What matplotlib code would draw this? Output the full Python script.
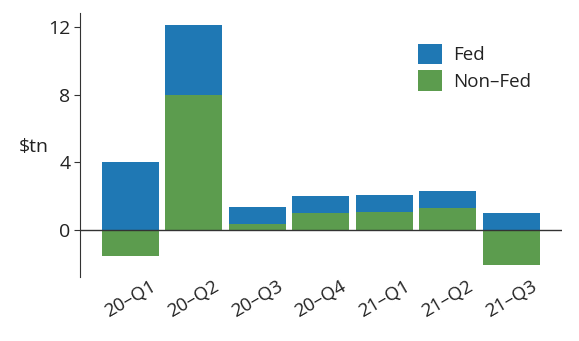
import matplotlib
matplotlib.use("Agg")
import matplotlib.pyplot as plt
import numpy as np

quarters = ["20\u2013Q1", "20\u2013Q2", "20\u2013Q3", "20\u2013Q4", "21\u2013Q1", "21\u2013Q2", "21\u2013Q3"]
fed = [4.04, 4.14, 1.00, 1.01, 1.02, 0.97, 0.99]
non_fed = [-1.54, 7.99, 0.36, 1.02, 1.05, 1.32, -2.09]

blue = "#1f78b4"
green = "#5c9c4e"

plt.rcParams['font.family'] = ['Open Sans', 'DejaVu Sans']

fig = plt.figure(figsize=(5.79, 3.41), dpi=100)
ax = fig.add_axes([80 / 579, 1 - 277 / 341, (562 - 80) / 579, (277 - 13) / 341])

x = np.arange(len(quarters))
# fed sits on top of positive non-fed, otherwise starts at zero
fed_bottom = [v if v > 0 else 0 for v in non_fed]
ax.bar(x, non_fed, width=0.9, color=green, edgecolor="none", label="Non\u2013Fed")
ax.bar(x, fed, width=0.9, bottom=fed_bottom, color=blue, edgecolor="none", label="Fed")

ax.axhline(0, color="#333333", linewidth=1.0)

ax.set_xlim(-0.79, 6.8)
ax.set_ylim(-2.78, 12.84)
ax.set_yticks([0, 4, 8, 12])
ax.set_xticks(x)
ax.set_xticklabels(quarters, rotation=30, ha="center")

for s in ["top", "right", "bottom"]:
    ax.spines[s].set_visible(False)
ax.spines["left"].set_color("#333333")
ax.tick_params(axis="y", length=4, color="#333333", labelsize=14, labelcolor="#222222", pad=3)
ax.tick_params(axis="x", length=0, labelsize=13.5, labelcolor="#222222", pad=0)

fig.text(19 / 579, 1 - 147 / 341, "$tn", fontsize=14, color="#222222", va="center", ha="left")

h, l = ax.get_legend_handles_labels()
leg = ax.legend(h[::-1], l[::-1], loc="upper left", bbox_to_anchor=((418 - 80) / 482, 1 - (44 - 13) / 264),
                frameon=False, fontsize=13.5, handlelength=1.3, handleheight=1.3, handletextpad=0.55,
                labelspacing=0.3, borderaxespad=0, borderpad=0)
for t in leg.get_texts():
    t.set_color("#222222")

fig.savefig("out.png", dpi=100)
